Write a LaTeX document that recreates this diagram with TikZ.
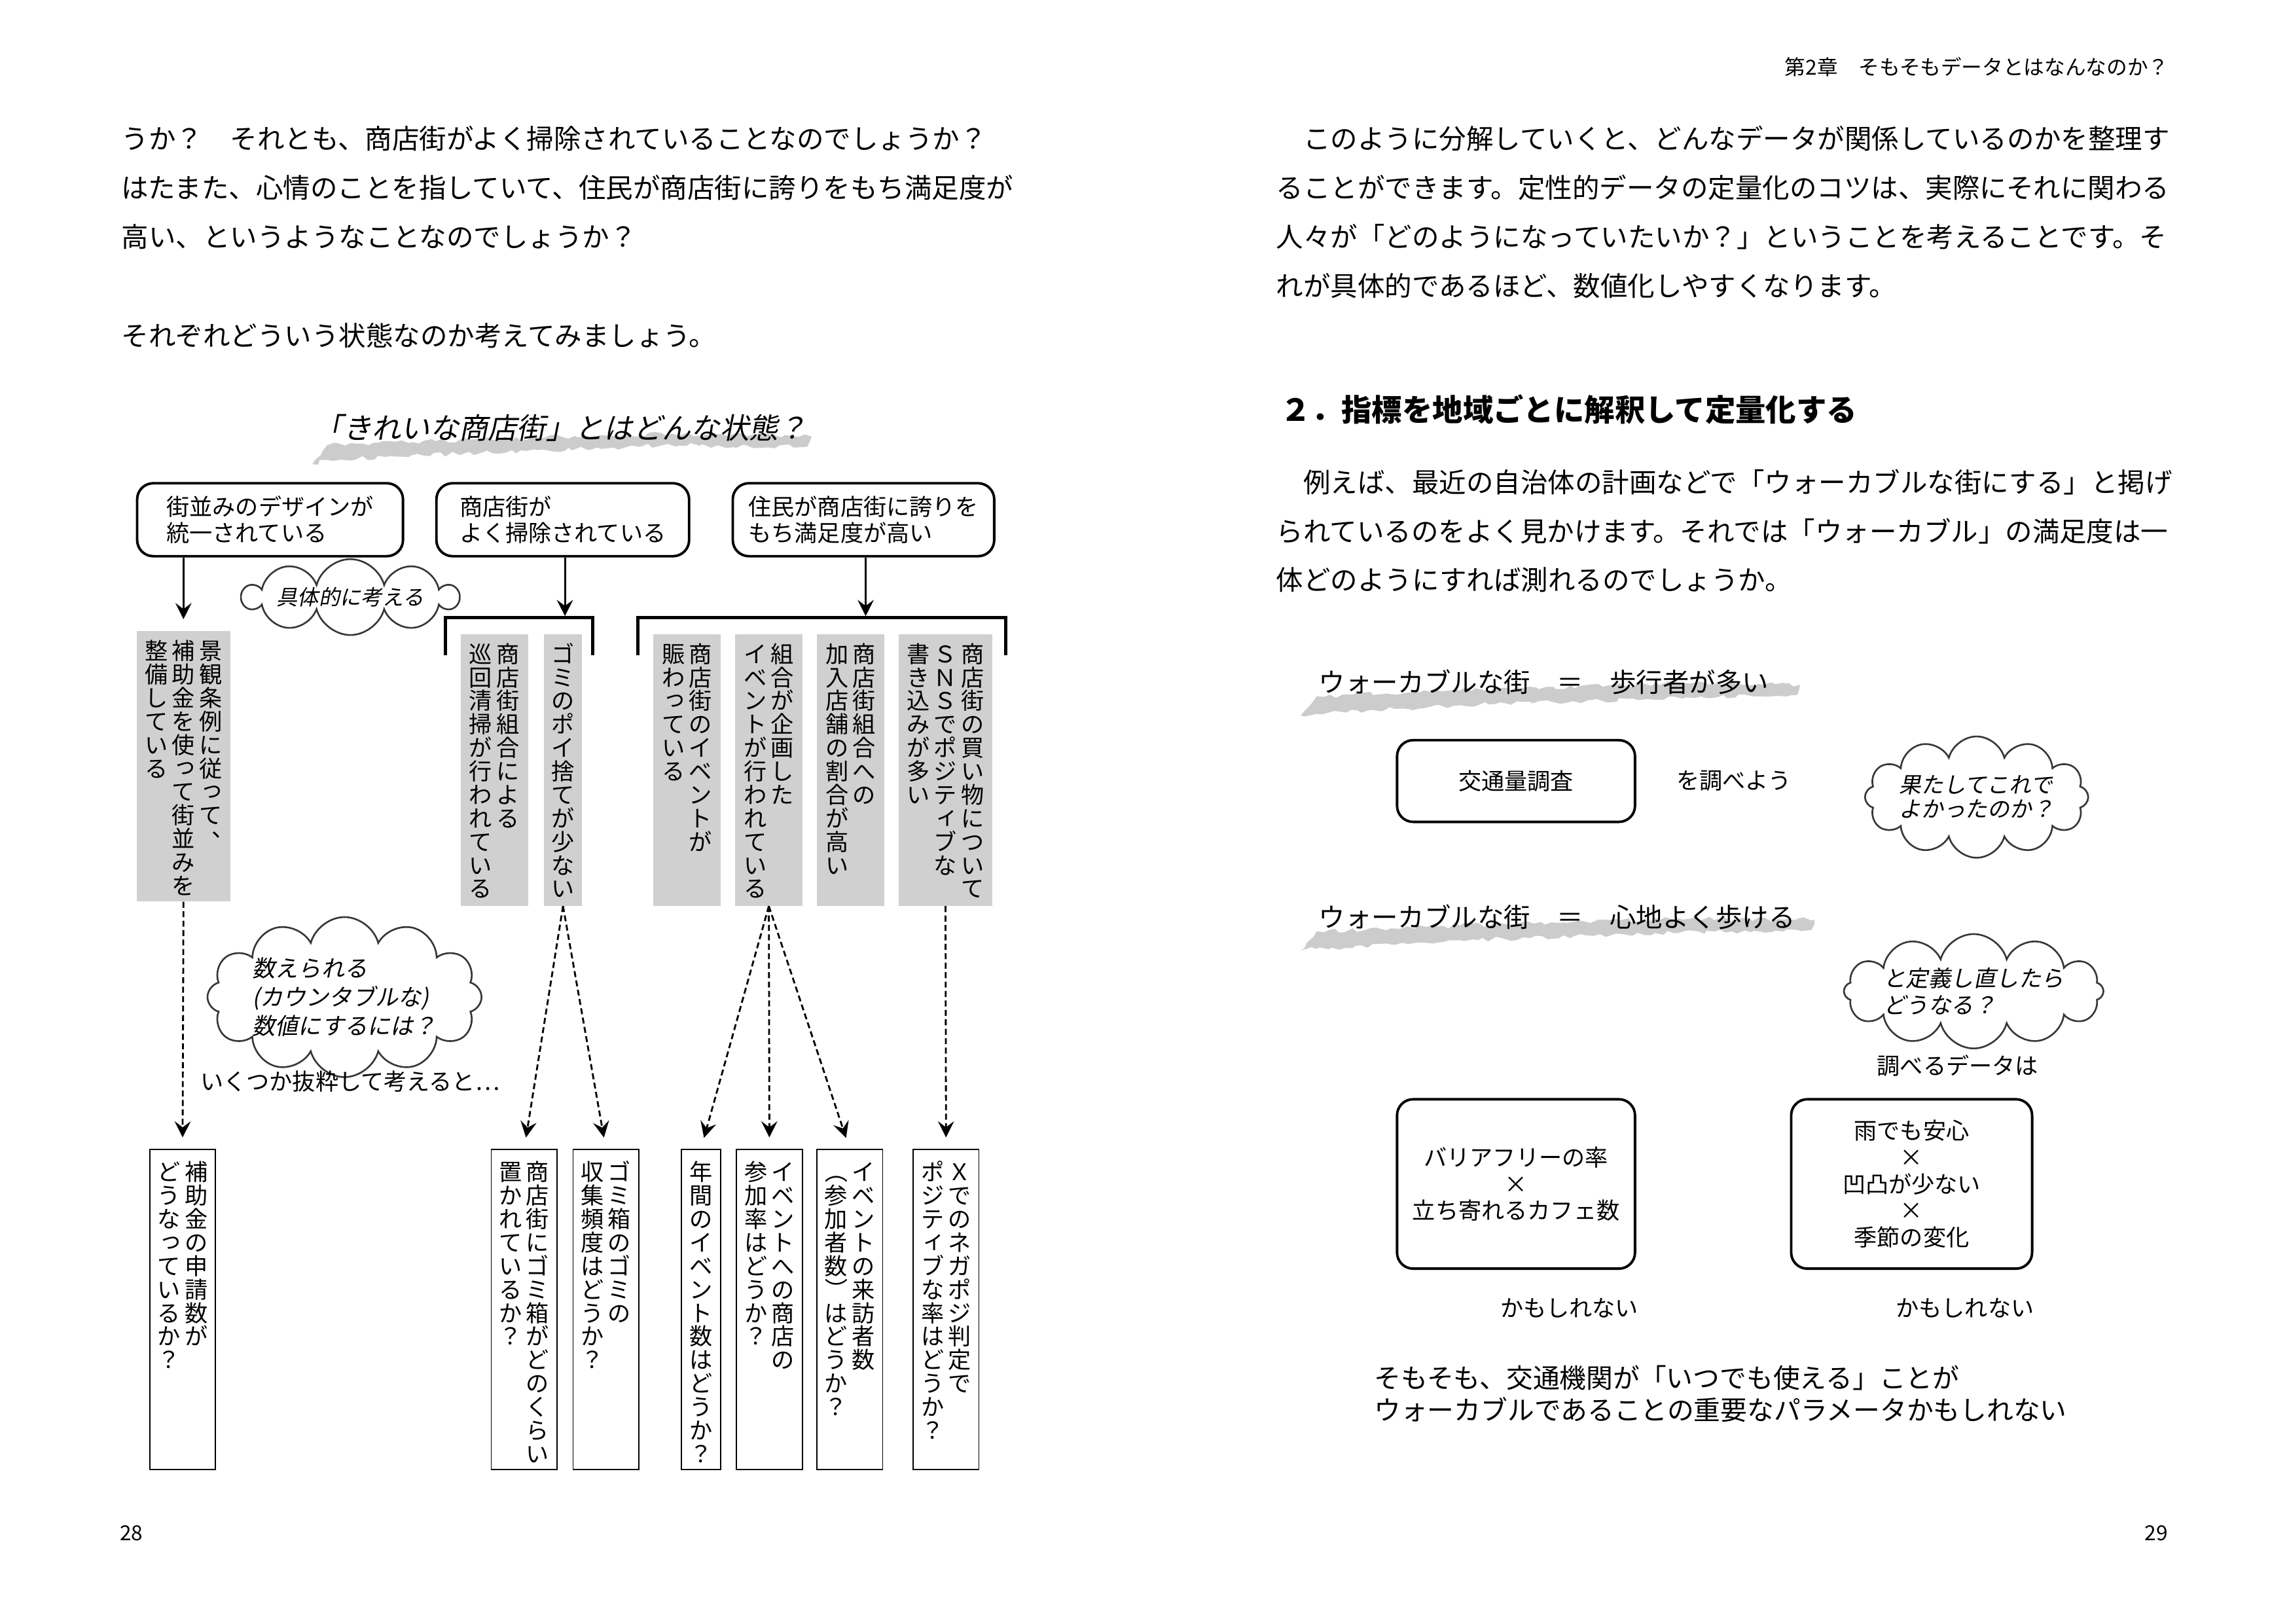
\documentclass[tikz,border=0pt]{standalone}
\usepackage{fontspec}
\usepackage{graphicx}
\setmainfont{Noto Sans CJK JP}
\newfontfamily\slantfont{Noto Sans CJK JP}[FakeSlant=0.2]
\usepackage{xcolor}
\usetikzlibrary{positioning,arrows.meta,shapes.symbols,decorations.pathmorphing}
\definecolor{cellgrey}{RGB}{208,208,208}
\definecolor{brushgrey}{RGB}{204,204,204}
\definecolor{cloudline}{RGB}{55,55,55}

% stacked (tategaki) columns: first column is the rightmost
\ExplSyntaxOn
\seq_new:N \l__tate_cols_seq
\cs_new_protected:Npn \__tate_char:n #1
  {
    \str_case:nnF {#1}
      {
        {、} { \hbox to 1em { \kern 0.55em \raise 0.45em \hbox to 0pt {#1 \hss} \hss } }
        {っ} { \hbox to 1em { \hss \kern 0.14em \raise 0.12em \hbox {#1} \hss } }
        {ィ} { \hbox to 1em { \hss \kern 0.14em \raise 0.12em \hbox {#1} \hss } }
        {（} { \hbox to 1em { \hss \rotatebox[origin=c]{-90}{#1} \hss } }
        {）} { \hbox to 1em { \hss \rotatebox[origin=c]{-90}{#1} \hss } }
      }
      { \hbox to 1em { \hss #1 \hss } }
  }
\cs_new_protected:Npn \__tate_column:n #1
  {
    \vtop
      {
        \baselineskip = 1.02em \lineskiplimit = -1em \lineskip = 0pt
        \tl_map_function:nN {#1} \__tate_char:n
      }
  }
\NewDocumentCommand \tate { m }
  {
    \seq_set_split:Nnn \l__tate_cols_seq { | } {#1}
    \seq_reverse:N \l__tate_cols_seq
    \hbox
      {
        \seq_map_indexed_inline:Nn \l__tate_cols_seq
          { \int_compare:nNnT {##1} > {1} { \kern 1.8pt } \__tate_column:n {##2} }
      }
  }
\ExplSyntaxOff

\begin{document}
\begin{tikzpicture}[x=0.0223cm, y=-0.0223cm,
    every node/.style={inner sep=0pt},
    bodytext/.style={anchor=north west, align=left, font=\fontsize{11.8}{21.3}\selectfont},
    smalltext/.style={font=\fontsize{10}{11.4}\selectfont},
    roundbox/.style={draw, line width=1.1pt, rounded corners=7pt, align=left,
                     font=\fontsize{10}{11.6}\selectfont},
    thought/.style={cloud, draw=cloudline, line width=0.75pt, cloud ignores aspect, align=left,
                    font=\slantfont\fontsize{9.8}{11.5}\selectfont},
    tatebox/.style={anchor=north east, font=\fontsize{10}{10}\selectfont},
    greycol/.style={tatebox, fill=cellgrey, minimum width=29.2pt, text height=12.4pt, text depth=105.6pt},
    answer/.style={tatebox, draw, line width=0.5pt, minimum width=28.6pt, text height=13.6pt, text depth=125.4pt},
    arrow/.style={-{Stealth[length=7pt, width=7pt, inset=2.6pt]}, line width=0.9pt, shorten >=5pt},
    dasharrow/.style={arrow, line width=0.8pt, dash pattern=on 2.6pt off 1.5pt},
    bracket/.style={line width=1.3pt},
    brush/.style={fill=brushgrey, decorate, decoration={random steps, segment length=2.5pt, amplitude=1pt}}
]
\pgfmathsetseed{7}
\fill[white] (0,0) rectangle (1568,1112);
\useasboundingbox (0,0) rectangle (1568,1112);

% left page
\node[bodytext] (intro) at (83,86) {うか？　それとも、商店街がよく掃除されていることなのでしょうか？\\はたまた、心情のことを指していて、住民が商店街に誇りをもち満足度が\\高い、というようなことなのでしょうか？};
\node[bodytext] (askline) at (83,221) {それぞれどういう状態なのか考えてみましょう。};

\fill[brush] (214,318) -- (224,305) -- (330,301) -- (460,297) -- (556,299) -- (553,306) -- (460,305) -- (330,310) -- (224,315) -- cycle;
\node[font=\slantfont\fontsize{12.6}{14}\selectfont] (title) at (384,293) {「きれいな商店街」とはどんな状態？};

\node[roundbox, minimum width=115.5pt, minimum height=31.7pt] (design) at (185,356) {街並みのデザインが\\統一されている};
\node[roundbox, minimum width=109.8pt, minimum height=31.7pt] (clean) at (385.5,356) {商店街が\\よく掃除されている};
\node[roundbox, minimum width=113.6pt, minimum height=31.7pt] (pride) at (591.5,356) {住民が商店街に誇りを\\もち満足度が高い};

\node[thought, cloud puffs=10, minimum width=93pt, minimum height=26pt,
      font=\slantfont\fontsize{9.2}{11}\selectfont] (concrete) at (240,409) {具体的に考える};

% grey columns
\node[greycol, minimum width=40.6pt, text depth=105pt] (g1) at (158,432) {\tate{景観条例に従って、|補助金を使って街並みを|整備している}};
\node[greycol] (g2) at (362,434) {\tate{商店街組合による|巡回清掃が行われている}};
\node[greycol, minimum width=16.5pt] (g3) at (399,434) {\tate{ゴミのポイ捨てが少ない}};
\node[greycol] (g4) at (494,434) {\tate{商店街のイベントが|賑わっている}};
\node[greycol] (g5) at (550,434) {\tate{組合が企画した|イベントが行われている}};
\node[greycol] (g6) at (606,434) {\tate{商店街組合への|加入店舗の割合が高い}};
\node[greycol, minimum width=40.6pt] (g7) at (680,434) {\tate{商店街の買い物について|ＳＮＳでポジティブな|書き込みが多い}};

\draw[bracket] (305,449) |- (406,423) -- (406,449);
\draw[bracket] (437,449) |- (689,423) -- (689,449);
\coordinate (cleanhit) at (387,422);
\coordinate (pridehit) at (593,422);

\draw[arrow] (design.south -| g1.north) -- (g1.north);
\draw[arrow, shorten >=0pt] (clean.south -| cleanhit) -- (cleanhit);
\draw[arrow, shorten >=0pt] (pride.south -| pridehit) -- (pridehit);

\node[thought, cloud puffs=12, minimum width=108pt, minimum height=54pt,
      font=\slantfont\fontsize{10}{12.6}\selectfont] (countable) at (236,683) {数えられる\\(カウンタブルな)\\数値にするには？};
\node[smalltext, anchor=west] (pickup) at (137,741) {いくつか抜粋して考えると…};

% answer columns
\node[answer] (subsidy) at (148,787) {\tate{補助金の申請数が|どうなっているか？}};
\node[answer] (binplace) at (382,787) {\tate{商店街にゴミ箱がどのくらい|置かれているか？}};
\node[answer] (bincollect) at (438,787) {\tate{ゴミ箱のゴミの|収集頻度はどうか？}};
\node[answer, minimum width=17.1pt] (eventcount) at (494,787) {\tate{年間のイベント数はどうか？}};
\node[answer] (shoprate) at (550,787) {\tate{イベントへの商店の|参加率はどうか？}};
\node[answer] (visitors) at (605,787) {\tate{イベントの来訪者数|（参加者数）はどうか？}};
\node[answer] (posirate) at (671,787) {\tate{Ｘでのネガポジ判定で|ポジティブな率はどうか？}};

\draw[dasharrow] (g1.south) -- (subsidy.north);
\draw[dasharrow] (g3.south) -- (binplace.north);
\draw[dasharrow] (g3.south) -- (bincollect.north);
\draw[dasharrow] (g5.south) -- (eventcount.north);
\draw[dasharrow] (g5.south) -- (shoprate.north);
\draw[dasharrow] (g5.south) -- (visitors.north);
\draw[dasharrow] (g7.south) -- (posirate.north);

\node[font=\fontsize{9}{10}\selectfont] (leftno) at (90,1050) {28};

% right page
\node[font=\fontsize{9}{10}\selectfont, anchor=east] (runhead) at (1486,46) {第2章　そもそもデータとはなんなのか？};
\node[bodytext] (decompose) at (874,86) {　このように分解していくと、どんなデータが関係しているのかを整理す\\ることができます。定性的データの定量化のコツは、実際にそれに関わる\\人々が「どのようになっていたいか？」ということを考えることです。そ\\れが具体的であるほど、数値化しやすくなります。};
\node[anchor=north west, font=\bfseries\fontsize{13.2}{15}\selectfont] (section) at (877,270) {２．指標を地域ごとに解釈して定量化する};
\node[bodytext] (walkable) at (874,321) {　例えば、最近の自治体の計画などで「ウォーカブルな街にする」と掲げ\\られているのをよく見かけます。それでは「ウォーカブル」の満足度は一\\体どのようにすれば測れるのでしょうか。};

\fill[brush] (891,490) -- (902,477) -- (1000,473) -- (1150,468) -- (1233,469) -- (1231,476) -- (1150,478) -- (1000,483) -- (902,489) -- cycle;
\node[anchor=west, font=\fontsize{11.5}{13}\selectfont] (walkone) at (903,467) {ウォーカブルな街　＝　歩行者が多い};
\node[roundbox, align=center, minimum width=103.4pt, minimum height=35.5pt] (traffic) at (1038.5,535) {交通量調査};
\node[smalltext, anchor=west] (tocheck) at (1148,535) {を調べよう};
\node[thought, cloud puffs=12, minimum width=96.4pt, minimum height=52.7pt,
      font=\slantfont\fontsize{9.6}{10.5}\selectfont] (doubt) at (1354,546) {果たしてこれで\\よかったのか？};

\fill[brush] (891,651) -- (902,638) -- (1000,634) -- (1150,629) -- (1243,630) -- (1241,637) -- (1150,639) -- (1000,644) -- (902,650) -- cycle;
\node[anchor=west, font=\fontsize{11.5}{13}\selectfont] (walktwo) at (903,628) {ウォーカブルな街　＝　心地よく歩ける};
\node[thought, cloud puffs=12, minimum width=101.5pt, minimum height=42.5pt] (redefine) at (1352,679) {と定義し直したら\\どうなる？};
\node[smalltext] (datalabel) at (1341,730) {調べるデータは};

\node[roundbox, align=center, minimum width=103.4pt, minimum height=73.6pt] (barrier) at (1038.5,811) {バリアフリーの率\\×\\立ち寄れるカフェ数};
\node[roundbox, align=center, minimum width=104.7pt, minimum height=73.6pt] (rain) at (1309.5,811) {雨でも安心\\×\\凹凸が少ない\\×\\季節の変化};
\node[smalltext] (maybeone) at (1075,896) {かもしれない};
\node[smalltext] (maybetwo) at (1346,896) {かもしれない};

\node[anchor=north west, align=left, font=\fontsize{11.6}{14}\selectfont] (transit) at (941,935) {そもそも、交通機関が「いつでも使える」ことが\\ウォーカブルであることの重要なパラメータかもしれない};
\node[font=\fontsize{9}{10}\selectfont] (rightno) at (1477,1050) {29};
\end{tikzpicture}
\end{document}
